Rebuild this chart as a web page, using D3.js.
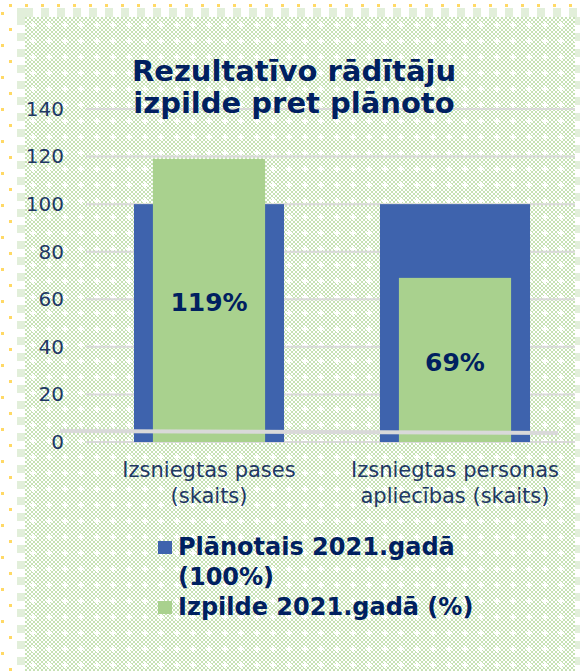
<!DOCTYPE html>
<html>
<head>
<meta charset="utf-8">
<script src="https://cdn.jsdelivr.net/npm/d3@7"></script>
<style>
  html, body { margin: 0; padding: 0; background: #fff; }
  svg { display: block; }
</style>
</head>
<body>
<svg width="580" height="671"></svg>
<script>
var categories = [["Izsniegtas pases", "(skaits)"], ["Izsniegtas personas", "apliecības (skaits)"]];
var planned = [100, 100];
var actual = [119, 69];
var actualLabels = ["119%", "69%"];
var yTicks = [0, 20, 40, 60, 80, 100, 120, 140];
var titleLines = ["Rezultatīvo rādītāju", "izpilde pret plānoto"];
var legendItems = [
    { color: "#3e63ad", lines: ["Plānotais 2021.gadā", "(100%)"] },
    { color: "#a9d18e", lines: ["Izpilde 2021.gadā (%)"] }
];

var width = 580;
var height = 671;
var navy = "#002060";
var axisText = "#203864";
var font = "'DejaVu Sans', Verdana, sans-serif";

var svg = d3.select("svg");
var defs = svg.append("defs");

// checker pattern with small white crosses, like the office "dotted grid" fill
var pat = defs.append("pattern")
    .attr("id", "checks")
    .attr("patternUnits", "userSpaceOnUse")
    .attr("x", 25).attr("y", 17)
    .attr("width", 16).attr("height", 16);
pat.append("rect").attr("width", 16).attr("height", 16).attr("fill", "#fff");
for (var i = 0; i < 8; i++) {
    for (var j = 0; j < 8; j++) {
        if ((i + j) % 2 === 0) {
            pat.append("rect")
                .attr("x", i * 2).attr("y", j * 2)
                .attr("width", 2).attr("height", 2)
                .attr("fill", "#c6e2b4");
        }
    }
}
pat.append("rect").attr("x", 5).attr("y", 7).attr("width", 6).attr("height", 2).attr("fill", "#fff");
pat.append("rect").attr("x", 7).attr("y", 5).attr("width", 2).attr("height", 6).attr("fill", "#fff");

// outer decoration: yellow dots and light green dashed frame
var dots = svg.append("g").attr("fill", "#ffd966");
d3.range(10, width, 16).forEach(function (x) {
    dots.append("rect").attr("x", x - 1).attr("y", 4).attr("width", 3).attr("height", 3);
});
d3.range(12, height, 16).forEach(function (y, k) {
    dots.append("rect").attr("x", k % 2 ? 9 : 1).attr("y", y).attr("width", 3).attr("height", 3);
});

svg.append("rect")
    .attr("x", 17).attr("y", 8)
    .attr("width", width - 17).attr("height", height)
    .attr("fill", "#e2efda");
svg.append("rect")
    .attr("x", 25).attr("y", 17)
    .attr("width", width - 30).attr("height", height)
    .attr("fill", "url(#checks)");
var frameGaps = svg.append("g").attr("fill", "#fff");
d3.range(33, width, 16).forEach(function (x) {
    frameGaps.append("rect").attr("x", x).attr("y", 8).attr("width", 8).attr("height", 9);
});
d3.range(25, height, 16).forEach(function (y) {
    frameGaps.append("rect").attr("x", 17).attr("y", y).attr("width", 8).attr("height", 8);
    frameGaps.append("rect").attr("x", width - 5).attr("y", y).attr("width", 5).attr("height", 8);
});

// scales
var x = d3.scaleBand()
    .domain(d3.range(categories.length))
    .range([86, 578])
    .padding(0);

var y = d3.scaleLinear()
    .domain([0, 140])
    .range([442, 109]);

// gridlines
svg.append("g")
    .selectAll("line")
    .data(yTicks)
    .enter().append("line")
    .attr("x1", 86).attr("x2", 575)
    .attr("y1", function (d) { return y(d); })
    .attr("y2", function (d) { return y(d); })
    .attr("stroke", "#d9d9d9")
    .attr("stroke-width", 2);

// y axis labels
var yAxis = d3.axisLeft(y).tickValues(yTicks).tickSize(0).tickPadding(0);
var yg = svg.append("g")
    .attr("transform", "translate(64,0)")
    .call(yAxis);
yg.select(".domain").remove();
yg.selectAll("text")
    .attr("font-family", font)
    .attr("font-size", 20)
    .attr("fill", axisText);

var bw = x.bandwidth();

// planned bars (wide, behind)
svg.append("g")
    .selectAll("rect")
    .data(planned)
    .enter().append("rect")
    .attr("x", function (d, i) { return x(i) + bw / 2 - bw * 0.305; })
    .attr("width", bw * 0.61)
    .attr("y", function (d) { return y(d); })
    .attr("height", function (d) { return y(0) - y(d); })
    .attr("fill", legendItems[0].color);

// actual bars (narrow, in front)
svg.append("g")
    .selectAll("rect")
    .data(actual)
    .enter().append("rect")
    .attr("x", function (d, i) { return x(i) + bw / 2 - bw * 0.228; })
    .attr("width", bw * 0.456)
    .attr("y", function (d) { return y(d); })
    .attr("height", function (d) { return y(0) - y(d); })
    .attr("fill", legendItems[1].color);

// value labels
svg.append("g")
    .selectAll("text")
    .data(actual)
    .enter().append("text")
    .attr("x", function (d, i) { return x(i) + bw / 2; })
    .attr("y", function (d) { return (y(d) + y(0)) / 2 + 11; })
    .attr("text-anchor", "middle")
    .attr("font-family", font)
    .attr("font-weight", "bold")
    .attr("font-size", 25)
    .attr("fill", navy)
    .text(function (d, i) { return actualLabels[i]; });

// odd grey line drawn over the bars near the base
svg.append("line")
    .attr("x1", 60).attr("y1", 431)
    .attr("x2", 558).attr("y2", 433)
    .attr("stroke", "#d9d9d9")
    .attr("stroke-width", 4);

// category labels
var cat = svg.append("g")
    .selectAll("text")
    .data(categories)
    .enter().append("text")
    .attr("text-anchor", "middle")
    .attr("font-family", font)
    .attr("font-size", 21)
    .attr("fill", axisText);
cat.selectAll("tspan")
    .data(function (d, i) { return d.map(function (s) { return { s: s, i: i }; }); })
    .enter().append("tspan")
    .attr("x", function (d) { return x(d.i) + bw / 2; })
    .attr("y", function (d, k) { return 477 + k * 26; })
    .text(function (d) { return d.s; });

// title
svg.append("g")
    .selectAll("text")
    .data(titleLines)
    .enter().append("text")
    .attr("x", 294)
    .attr("y", function (d, i) { return 81 + i * 32; })
    .attr("text-anchor", "middle")
    .attr("font-family", font)
    .attr("font-weight", "bold")
    .attr("font-size", 29)
    .attr("fill", navy)
    .text(function (d) { return d; });

// legend
var ly = 555;
legendItems.forEach(function (item) {
    svg.append("rect")
        .attr("x", 158).attr("y", ly - 14)
        .attr("width", 14).attr("height", 13)
        .attr("fill", item.color);
    item.lines.forEach(function (line) {
        svg.append("text")
            .attr("x", 178).attr("y", ly)
            .attr("font-family", font)
            .attr("font-weight", "bold")
            .attr("font-size", 24)
            .attr("fill", navy)
            .text(line);
        ly += 30;
    });
});
</script>
</body>
</html>
